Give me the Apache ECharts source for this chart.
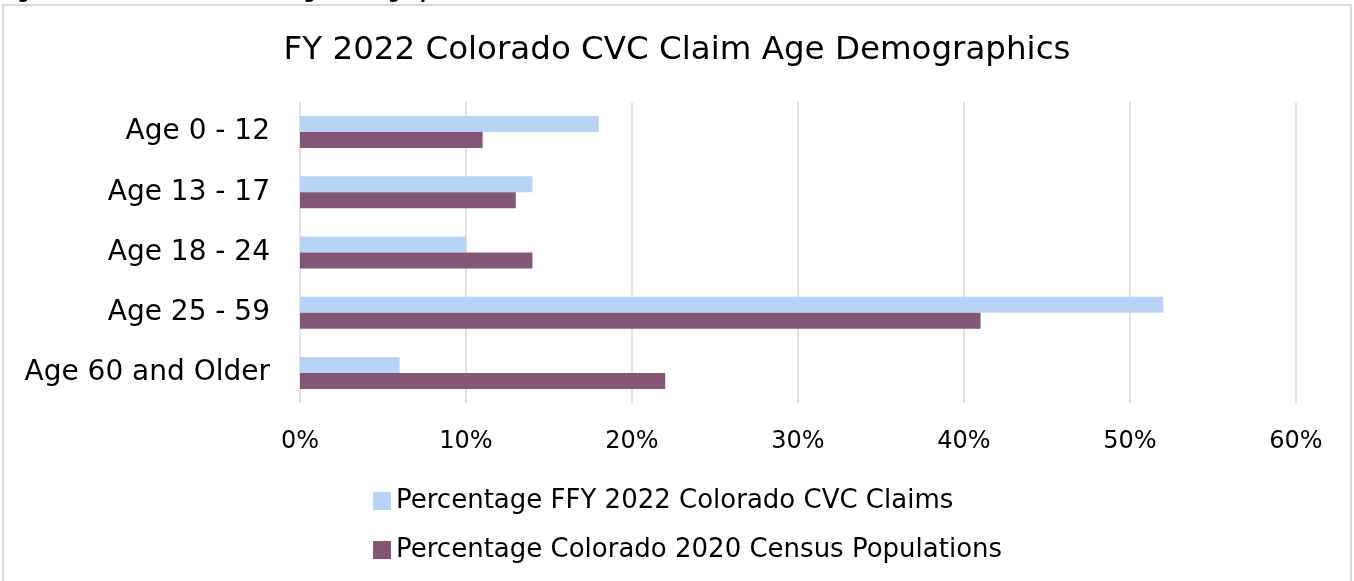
<!DOCTYPE html>
<html>
<head>
<meta charset="utf-8">
<script src="https://cdn.jsdelivr.net/npm/echarts@6/dist/echarts.min.js"></script>
<style>
  html, body { margin: 0; padding: 0; background: #fff; }
  #chart { width: 1354px; height: 581px; }
</style>
</head>
<body>
<div id="chart"></div>
<script>
const categories = ['Age 0 - 12', 'Age 13 - 17', 'Age 18 - 24', 'Age 25 - 59', 'Age 60 and Older'];
const claimsPct = [18, 14, 10, 52, 6];
const censusPct = [11, 13, 14, 41, 22];
const seriesNames = ['Percentage FFY 2022 Colorado CVC Claims', 'Percentage Colorado 2020 Census Populations'];
const xTicks = [0, 10, 20, 30, 40, 50, 60];

const font = 'DejaVu Sans';
const chart = echarts.init(document.getElementById('chart'));

chart.setOption({
    backgroundColor: '#fff',
    animation: false,
    title: {
        text: 'FY 2022 Colorado CVC Claim Age Demographics',
        left: 'center',
        top: 29,
        textStyle: { fontFamily: font, fontSize: 32.5, fontWeight: 'normal', color: '#000' }
    },
    graphic: [
        {
            type: 'rect',
            shape: { x: 3, y: 5, width: 1348, height: 620 },
            style: { fill: 'none', stroke: '#d9d9d9', lineWidth: 2 },
            silent: true
        },
        {
            // caption line above the chart, cut off by the page edge
            type: 'text',
            left: 0,
            top: -15,
            style: { text: 'Figure 10: FY 2022 CVC Claim Age Demographics', font: 'bold 17px "DejaVu Sans"', fill: '#000' },
            silent: true
        }
    ],
    legend: {
        orient: 'vertical',
        left: 368,
        top: 483,
        itemWidth: 18,
        itemHeight: 18,
        itemGap: 23,
        icon: 'rect',
        textStyle: { fontFamily: font, fontSize: 26, color: '#000' },
        data: seriesNames
    },
    grid: { left: 300, right: 58, top: 102, bottom: 178 },
    xAxis: {
        type: 'value',
        min: 0,
        max: 60,
        interval: 10,
        axisLine: { show: false },
        axisTick: { show: false },
        axisLabel: {
            margin: 27,
            fontFamily: font,
            fontSize: 24,
            color: '#000',
            formatter: v => xTicks.includes(v) ? v + '%' : ''
        },
        splitLine: { show: true, lineStyle: { color: '#d9d9d9', width: 1.5 } }
    },
    yAxis: {
        type: 'category',
        inverse: true,
        data: categories,
        axisLine: { show: false },
        axisTick: { show: false },
        axisLabel: { margin: 30, fontFamily: font, fontSize: 28, color: '#000' }
    },
    series: [
        {
            name: seriesNames[0],
            type: 'bar',
            data: claimsPct,
            barWidth: 16,
            barGap: '0%',
            barCategoryGap: '47%',
            itemStyle: { color: '#b9d3f7' }
        },
        {
            name: seriesNames[1],
            type: 'bar',
            data: censusPct,
            barWidth: 16,
            barGap: '0%',
            itemStyle: { color: '#835675' }
        }
    ]
});
</script>
</body>
</html>
